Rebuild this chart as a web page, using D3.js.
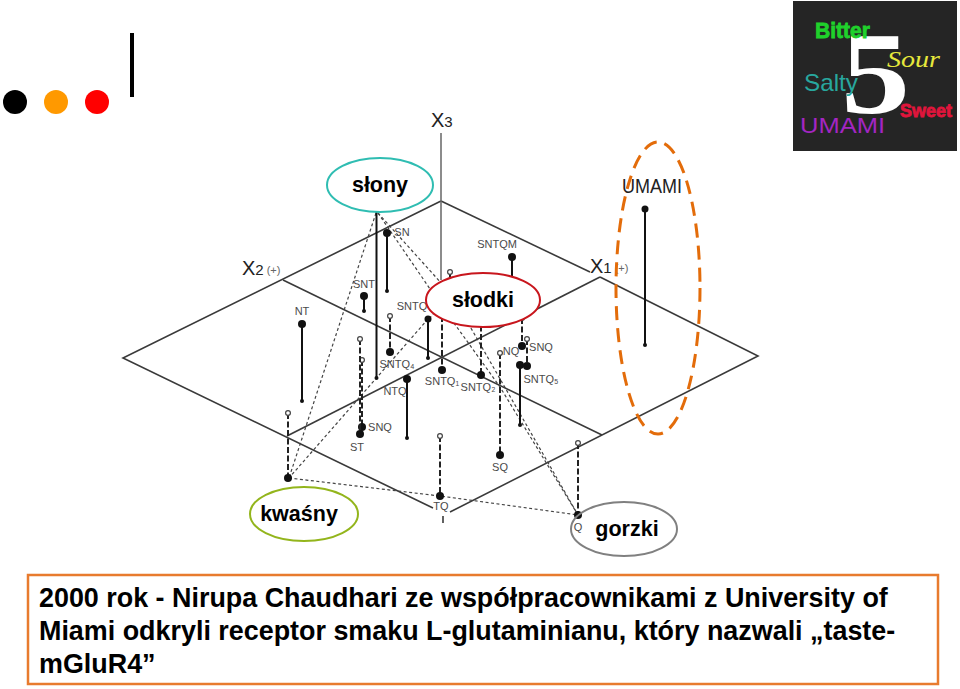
<!DOCTYPE html>
<html>
<head>
<meta charset="utf-8">
<title>Umami</title>
<script src="https://cdn.jsdelivr.net/npm/d3@7"></script>
<style>
  html, body { margin: 0; padding: 0; background: #fff; }
  svg { display: block; }
  .bold { font-family: "Liberation Sans", Arial, sans-serif; font-weight: bold; fill: #000; }
  .scan { font-family: "Liberation Sans", sans-serif; fill: #4a4a4a; }
</style>
</head>
<body>
<div id="chart"></div>
<script>
// plane coordinates: u to the right, v upwards, origin at the foot of X3
const planeEdges = [
  [[0, 15.5], [-31.8, -0.2], [-0.8, -15.2]],
  [[0.9, -15.6], [31.7, 0], [15.9, 7.9]],
  [[14.9, 8.4], [0, 15.5]],
  [[-15.8, 7.6], [16.1, -7.9]],
  [[15.9, 7.9], [-15.4, -8.0]],
  [[0.2, -16.0], [0.2, -16.7]]
];
const axisX3 = [[0, 22.3], [0, 7.6]];

// solid stems: filled head on top
const solidU = [-13.9, -5.4, -7.7, 20.4, -1.3, -3.4, 7.1, -6.45, 7.9];
const solidTop = [3.2, 12.3, 6.0, 14.7, 3.7, -2.3, 9.9, 14.4, -0.9];
const solidBottom = [-4.5, 6.5, 4.5, 1.1, -0.2, -8.2, 7.6, -2.2, -6.9];
const solidHead = [4, 4, 4, 3.5, 3.5, 4, 4, 0, 4];
const solidFoot = [2, 2, 2, 2, 2, 2, 0, 2, 2];

// dashed stems: open circle on top, filled foot
const dashedU = [-5.1, -7.9, -8.1, -15.3, -0.1, 13.7, 0.1, 4.0, 5.9, 8.1, 0.9, 8.6];
const dashedTop = [4.0, -0.4, 1.7, -5.7, -8.0, -8.7, 4.0, 3.9, 0.3, 3.8, 8.4, 1.7];
const dashedBottom = [0.4, -7.1, -7.8, -12.2, -14.0, -15.9, -1.4, -1.9, -9.9, 1.0, 5.5, -1.0];

// dotted links between the pure tastes
const links = [
  [[-6.5, 14.3], [-15.2, -12.2]],
  [[-1.3, 3.7], [-15.2, -12.2]],
  [[-15.2, -12.2], [-0.1, -14.0], [13.7, -15.9]],
  [[-6.3, 14.3], [0, 5.1], [-1.3, 3.6]],
  [[-6.3, 14.3], [1.1, 6.1], [13.7, -15.9]],
  [[0, 5.1], [5.9, -3.1], [13.7, -15.9]]
];

const labelNames = ["NT", "SN", "SNT", "SNTQ", "SNTQM", "SNTQ₄", "NTQ", "SNQ", "ST", "SNTQ₁", "SNTQ₂", "NQ", "SNQ", "SNTQ₅", "SQ", "TQ", "Q"];
const labelU = [-13.9, -3.9, -7.7, -2.9, 5.6, -4.4, -4.6, -6.1, -8.4, 0.1, 3.7, 7.0, 10.0, 10.0, 5.9, 0, 13.7];
const labelV = [4.1, 12.0, 6.8, 4.6, 10.8, -1.2, -3.9, -7.5, -9.5, -2.9, -3.5, 0.1, 0.5, -2.7, -11.5, -15.4, -17.5];

const tastes = ["słony", "słodki", "kwaśny", "gorzki"];
const tasteU = [-6.1, 4.2, -13.7, 18.3];
const tasteV = [17.1, 5.6, -15.8, -17.3];
const tasteRx = [53, 57, 54, 53];
const tasteColors = ["#2fbdb2", "#c8161d", "#93b51c", "#808080"];

const logoWords = ["Bitter", "Sour", "Salty", "Sweet", "UMAMI"];
const logoColors = ["#1fd12b", "#e6e83c", "#28a79e", "#e0153c", "#a326c2"];

const noteLines = [
  "2000 rok - Nirupa Chaudhari ze współpracownikami z University of",
  "Miami odkryli receptor smaku L-glutaminianu, który nazwali „taste-",
  "mGluR4”"
];

const width = 960, height = 689;
const svg = d3.select("#chart").append("svg").attr("width", width).attr("height", height);

const x = d3.scaleLinear().domain([-44.1, 51.9]).range([0, 960]);
const y = d3.scaleLinear().domain([35.6, -33.3]).range([0, 689]);
const line = d3.line().x(d => x(d[0])).y(d => y(d[1]));

// slide furniture
svg.selectAll(".dot").data(["#000", "#ff9900", "#ff0000"]).join("circle")
  .attr("cx", (d, i) => 15 + i * 41).attr("cy", 102).attr("r", 12).attr("fill", d => d);
svg.append("rect").attr("x", 130).attr("y", 33).attr("width", 4).attr("height", 64).attr("fill", "#000");

// plane
svg.append("g").selectAll("path").data(planeEdges).join("path")
  .attr("d", line).attr("fill", "none").attr("stroke", "#3a3a3a").attr("stroke-width", 1.6);
svg.append("path").attr("d", line(axisX3)).attr("fill", "none").attr("stroke", "#666").attr("stroke-width", 1.5);

// dotted links
svg.append("g").selectAll("path").data(links).join("path")
  .attr("d", line).attr("fill", "none").attr("stroke", "#444").attr("stroke-width", 1.2).attr("stroke-dasharray", "3,2.5");

// dashed stems
const dashed = svg.append("g");
dashedU.forEach((u, i) => {
  dashed.append("line")
    .attr("x1", x(u)).attr("x2", x(u)).attr("y1", y(dashedTop[i])).attr("y2", y(dashedBottom[i]))
    .attr("stroke", "#222").attr("stroke-width", 2).attr("stroke-dasharray", "6,2.5");
  dashed.append("circle").attr("cx", x(u)).attr("cy", y(dashedTop[i])).attr("r", 2.4)
    .attr("fill", "#fff").attr("stroke", "#444").attr("stroke-width", 1.2);
  dashed.append("circle").attr("cx", x(u)).attr("cy", y(dashedBottom[i])).attr("r", 4).attr("fill", "#111");
});

// solid stems
const solid = svg.append("g");
solidU.forEach((u, i) => {
  solid.append("line")
    .attr("x1", x(u)).attr("x2", x(u)).attr("y1", y(solidTop[i])).attr("y2", y(solidBottom[i]))
    .attr("stroke", "#111").attr("stroke-width", 2);
  solid.append("circle").attr("cx", x(u)).attr("cy", y(solidTop[i])).attr("r", solidHead[i]).attr("fill", "#111");
  solid.append("circle").attr("cx", x(u)).attr("cy", y(solidBottom[i])).attr("r", solidFoot[i]).attr("fill", "#111");
});

// small labels
svg.append("g").selectAll("text").data(labelNames).join("text")
  .attr("class", "scan").attr("x", (d, i) => x(labelU[i])).attr("y", (d, i) => y(labelV[i]))
  .attr("text-anchor", "middle").attr("font-size", 11).text(d => d);

// axis names
const axisText = svg.append("g");
[["X", "3", "", -1.0, 22.9], ["X", "2", "(+)", -19.9, 8.1], ["X", "1", "(+)", 14.9, 8.3]].forEach(d => {
  const t = axisText.append("text").attr("class", "scan").attr("x", x(d[3])).attr("y", y(d[4]))
    .attr("font-size", 20).style("fill", "#222");
  t.append("tspan").text(d[0]);
  t.append("tspan").attr("font-size", 15).text(d[1]);
  t.append("tspan").attr("font-size", 11).attr("dx", 3).attr("dy", -1).style("fill", "#666").text(d[2]);
});
svg.append("text").attr("class", "scan").attr("x", x(18.1)).attr("y", y(16.3))
  .attr("textLength", 60).attr("lengthAdjust", "spacingAndGlyphs")
  .attr("font-size", 21).style("fill", "#222").text("UMAMI");

// umami dashed ring
svg.append("ellipse").attr("cx", x(21.7)).attr("cy", y(6.8)).attr("rx", 42).attr("ry", 146)
  .attr("fill", "none").attr("stroke", "#e36c0a").attr("stroke-width", 3).attr("stroke-dasharray", "14,8");

// taste bubbles
tastes.forEach((t, i) => {
  svg.append("ellipse").attr("cx", x(tasteU[i])).attr("cy", y(tasteV[i])).attr("rx", tasteRx[i]).attr("ry", 27)
    .attr("fill", t === "gorzki" ? "none" : "#fff").attr("stroke", tasteColors[i]).attr("stroke-width", 2);
  svg.append("text").attr("class", "bold").attr("x", x(tasteU[i]) + (i === 2 ? -5 : i === 3 ? 3 : 0)).attr("y", y(tasteV[i]) + 7)
    .attr("text-anchor", "middle").attr("font-size", 21.5).text(t);
});

// logo
const logo = svg.append("g");
logo.append("rect").attr("x", 793).attr("y", 1).attr("width", 164).attr("height", 150).attr("fill", "#252525");
logo.append("text").attr("x", 841).attr("y", 113).attr("font-family", "Liberation Serif")
  .attr("textLength", 69).attr("lengthAdjust", "spacingAndGlyphs")
  .attr("font-weight", "bold").attr("font-size", 116).attr("fill", "#fff").text("5");
const logoX = [815, 887, 804, 900, 800];
const logoY = [38, 67, 91, 117, 133];
const logoLen = [55, 53, 54, 52, 85];
const logoSize = [22, 24, 24, 19, 22];
const logoFont = ["Liberation Sans", "Liberation Serif", "Liberation Sans", "Liberation Sans", "Liberation Sans"];
logo.selectAll(".word").data(logoWords).join("text")
  .attr("x", (d, i) => logoX[i]).attr("y", (d, i) => logoY[i])
  .attr("textLength", (d, i) => logoLen[i]).attr("lengthAdjust", "spacingAndGlyphs")
  .attr("font-family", (d, i) => logoFont[i]).attr("font-size", (d, i) => logoSize[i])
  .attr("font-weight", (d, i) => (i === 0 || i === 3) ? "bold" : "normal")
  .attr("font-style", (d, i) => i === 1 ? "italic" : "normal")
  .attr("stroke", (d, i) => logoColors[i]).attr("stroke-width", (d, i) => (i === 0 || i === 3) ? 0.8 : 0)
  .attr("fill", (d, i) => logoColors[i]).text(d => d);

// note box
svg.append("rect").attr("x", 28).attr("y", 575).attr("width", 910).attr("height", 109)
  .attr("fill", "none").attr("stroke", "#e87b2e").attr("stroke-width", 2.5);
svg.selectAll(".note").data(noteLines).join("text")
  .attr("class", "bold").attr("x", 39).attr("y", (d, i) => 607 + i * 33)
  .attr("font-size", 26.9).text(d => d);
</script>
</body>
</html>
